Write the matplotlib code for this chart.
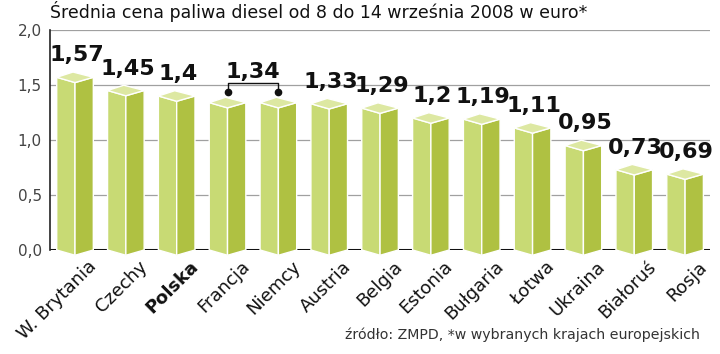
import matplotlib
matplotlib.use("Agg")
import matplotlib.pyplot as plt
from matplotlib.patches import Polygon

countries = ["W. Brytania", "Czechy", "Polska", "Francja", "Niemcy", "Austria",
             "Belgia", "Estonia", "Bułgaria", "Łotwa", "Ukraina", "Białoruś", "Rosja"]
prices = [1.57, 1.45, 1.40, 1.34, 1.34, 1.33, 1.29, 1.20, 1.19, 1.11, 0.95, 0.73, 0.69]
value_labels = ["1,57", "1,45", "1,4", None, None, "1,33", "1,29", "1,2", "1,19",
                "1,11", "0,95", "0,73", "0,69"]
shared_label = "1,34"
shared_pair = (3, 4)
yticks = [0.0, 0.5, 1.0, 1.5, 2.0]
ytick_labels = ["0,0", "0,5", "1,0", "1,5", "2,0"]
title = "Średnia cena paliwa diesel od 8 do 14 września 2008 w euro*"
source = "źródło: ZMPD, *w wybranych krajach europejskich"

plt.rcParams['font.family'] = ['DejaVu Sans']

LIGHT = "#c8da74"
DARK = "#afc142"
TOP = "#dde8a2"

fig = plt.figure(figsize=(7.2, 3.54), dpi=100)
ax = fig.add_axes([50/720, 104/354, 660/720, 220/354])
ax.set_xlim(-0.492, 12.49)
ax.set_ylim(0, 2.0)

for s in ["top", "right", "bottom"]:
    ax.spines[s].set_visible(False)
ax.spines["left"].set_color("#222222")
ax.spines["left"].set_linewidth(1.2)

for y in yticks[1:]:
    ax.axhline(y, color="#a0a0a0", lw=0.9, zorder=1)
ax.axhline(0, color="#111111", lw=2.2, zorder=1)

w = 0.36
d = 0.048
for i, v in enumerate(prices):
    c = i
    left = Polygon([(c - w, 0), (c - w, v), (c, v - d), (c, -d)], closed=True,
                   facecolor=LIGHT, edgecolor="white", lw=1.0, zorder=3, clip_on=False)
    right = Polygon([(c, -d), (c, v - d), (c + w, v), (c + w, 0)], closed=True,
                    facecolor=DARK, edgecolor="white", lw=1.0, zorder=3, clip_on=False)
    top = Polygon([(c - w, v), (c, v - d), (c + w, v), (c - 0.04, v + d)], closed=True,
                  facecolor=TOP, edgecolor="white", lw=1.0, zorder=4, clip_on=False)
    ax.add_patch(left)
    ax.add_patch(right)
    ax.add_patch(top)

for i, (v, lab) in enumerate(zip(prices, value_labels)):
    if lab is None:
        continue
    ax.text(i + 0.03, v + 0.2, lab, ha="center", va="center", fontsize=16,
            fontweight="bold", color="#111111", zorder=5, clip_on=False)

a, b = shared_pair
ys = prices[a] + 0.1
yl = 1.52
ax.plot([a, a, b, b], [ys, yl, yl, ys], color="#111111", lw=1.0, zorder=5)
ax.plot([a, b], [ys, ys], "o", color="#111111", ms=4.5, zorder=5)
ax.text((a + b) / 2, 1.62, shared_label, ha="center", va="center", fontsize=16,
        fontweight="bold", color="#111111", zorder=5)

ax.set_yticks(yticks)
ax.set_yticklabels(ytick_labels, fontsize=11, color="#444444")
ax.tick_params(axis="y", length=0, pad=6)
ax.set_xticks([])

for i, name in enumerate(countries):
    ax.text(i + 0.25, -0.07, name, rotation=45, rotation_mode="anchor",
            ha="right", va="top", fontsize=13, color="#111111",
            fontweight="bold" if name == "Polska" else "normal", clip_on=False)

fig.text(50/720, 1 - 12/354, title, ha="left", va="center", fontsize=12.5, color="#111111")
fig.text(700/720, 1 - 335/354, source, ha="right", va="center", fontsize=10.2, color="#333333")

fig.savefig("out.png", dpi=100)
